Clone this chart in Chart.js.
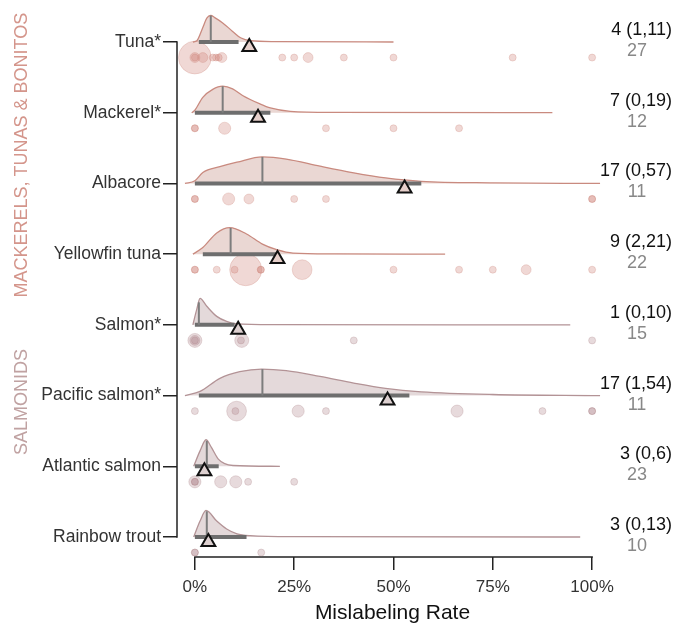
<!DOCTYPE html>
<html>
<head>
<meta charset="utf-8">
<script src="https://cdn.jsdelivr.net/npm/chart.js@4.4.1/dist/chart.umd.min.js"></script>
<style>
  html, body { margin: 0; padding: 0; background: #fff; }
</style>
</head>
<body>
<canvas id="rateChart" width="688" height="627"></canvas>
<script>
// Species, top to bottom
const species = ["Tuna*", "Mackerel*", "Albacore", "Yellowfin tuna", "Salmon*", "Pacific salmon*", "Atlantic salmon", "Rainbow trout"];
const speciesGroup = ["mackerel", "mackerel", "mackerel", "mackerel", "salmonid", "salmonid", "salmonid", "salmonid"];
const groupTitles = { mackerel: "MACKERELS, TUNAS & BONITOS", salmonid: "SALMONIDS" };

// Summary per species (percent)
const medians = [4, 7, 17, 9, 1, 17, 3, 3];
const lowerBounds = [1, 0, 0, 2, 0, 1, 0, 0];
const upperBounds = [11, 19, 57, 21, 10, 54, 6, 13];
const means = [13.7, 15.9, 52.8, 20.8, 10.9, 48.5, 2.4, 3.4];
const studyCounts = [27, 12, 11, 22, 15, 11, 23, 10];

// Density curves: [rate %, relative density]
const tunaDensity = [[-0.5, 0], [0.5, 0.05], [2, 0.55], [3, 0.9], [4, 1], [5, 0.92], [7, 0.72], [9.5, 0.4], [11.5, 0.16], [14, 0.05], [20, 0.015], [50, 0]];
const mackerelDensity = [[-0.8, 0], [0, 0.1], [2, 0.58], [4.5, 0.88], [7, 1], [9.5, 0.9], [12, 0.65], [16.4, 0.33], [19, 0.18], [24, 0.05], [35, 0.01], [90, 0]];
const albacoreDensity = [[-2.5, 0], [0, 0.1], [2, 0.41], [6.3, 0.63], [10.6, 0.8], [17, 1], [23, 0.92], [31.5, 0.65], [40, 0.4], [48, 0.21], [57, 0.08], [75, 0.02], [102, 0]];
const yellowfinDensity = [[-0.5, 0], [2, 0.25], [5.5, 0.8], [8.8, 1], [13, 0.76], [17, 0.38], [20.6, 0.17], [24.7, 0.04], [35, 0.01], [63, 0]];
const salmonDensity = [[-0.5, 0], [0.5, 0.6], [1.3, 1], [3, 0.7], [5.5, 0.32], [8, 0.13], [10.5, 0.04], [20, 0.01], [94.5, 0]];
const pacificDensity = [[-2.5, 0], [1.3, 0.16], [6.3, 0.65], [11.3, 0.9], [16.8, 1], [23, 0.94], [31.5, 0.72], [40, 0.47], [48, 0.27], [57, 0.14], [75, 0.04], [102, 0]];
const atlanticDensity = [[-0.3, 0], [1.3, 0.58], [2.8, 1], [4.2, 0.7], [5.9, 0.27], [7.5, 0.1], [9.6, 0.03], [21.4, 0]];
const rainbowDensity = [[-0.3, 0], [1.3, 0.6], [2.8, 1], [5.5, 0.6], [8, 0.3], [10.6, 0.12], [13.9, 0.05], [25, 0.01], [97, 0]];
const densities = [tunaDensity, mackerelDensity, albacoreDensity, yellowfinDensity, salmonDensity, pacificDensity, atlanticDensity, rainbowDensity];

// Individual studies: mislabeling rate (%) and sample weight
const tunaRates = [0, 0, 0, 2, 4.5, 5.3, 6, 6.8, 22, 25, 28.5, 37.5, 50, 80, 100];
const tunaWeights = [22, 2, 1, 2, 1, 1, 1, 2, 1, 1, 2, 1, 1, 1, 1];
const mackerelRates = [0, 0, 7.5, 33, 50, 66.5];
const mackerelWeights = [1, 1, 3, 1, 1, 1];
const albacoreRates = [0, 0, 8.5, 13.6, 25, 33, 100, 100];
const albacoreWeights = [1, 1, 3, 2, 1, 1, 1, 1];
const yellowfinRates = [0, 0, 5.5, 10, 12.8, 16.6, 16.6, 27, 50, 66.5, 75, 83.4, 100];
const yellowfinWeights = [1, 1, 1, 1, 21, 1, 1, 8, 1, 1, 1, 2, 1];
const salmonRates = [0, 0, 0, 11.6, 11.8, 40, 100];
const salmonWeights = [4, 2, 1, 1, 4, 1, 1];
const pacificRates = [0, 10.2, 10.5, 26, 33, 66, 87.5, 100, 100];
const pacificWeights = [1, 1, 8, 3, 1, 3, 1, 1, 1];
const atlanticRates = [0, 0, 0, 6.5, 10.3, 13.4, 25];
const atlanticWeights = [3, 1, 1, 3, 3, 1, 1];
const rainbowRates = [0, 0, 16.7];
const rainbowWeights = [1, 1, 1];
const studyRates = [tunaRates, mackerelRates, albacoreRates, yellowfinRates, salmonRates, pacificRates, atlanticRates, rainbowRates];
const studyWeights = [tunaWeights, mackerelWeights, albacoreWeights, yellowfinWeights, salmonWeights, pacificWeights, atlanticWeights, rainbowWeights];

const xTicks = [0, 25, 50, 75, 100];

const FONT = "'Liberation Sans', Arial, Helvetica, sans-serif";
const CURVE_HEIGHT = 0.375;  // peak of a density curve, in row units
const DOT_OFFSET = 0.22;
const MEAN_OFFSET = 0.07;

const palette = {
  mackerel: { fill: "rgba(195,140,128,0.35)", line: "#c98a7f", dot: "rgba(205,125,115,0.30)", dotEdge: "rgba(200,125,115,0.32)", mark: "#e6cfca", title: "#d4958b" },
  salmonid: { fill: "rgba(165,128,132,0.30)", line: "#b39396", dot: "rgba(170,122,128,0.28)", dotEdge: "rgba(165,120,125,0.32)", mark: "#ddd0d0", title: "#c0a2a2" }
};

Chart.defaults.font.family = FONT;

// height of a density curve at a given rate (linear between read points)
function densityAt(curve, rate) {
  for (let k = 1; k < curve.length; k++) {
    if (rate <= curve[k][0]) {
      const [x0, h0] = curve[k - 1];
      const [x1, h1] = curve[k];
      return h0 + (h1 - h0) * (rate - x0) / (x1 - x0);
    }
  }
  return 0;
}

const datasets = [];
species.forEach((name, i) => {
  const colors = palette[speciesGroup[i]];

  // mean marker
  datasets.push({
    data: [{ x: means[i], y: i + MEAN_OFFSET }],
    pointStyle: "triangle",
    pointRadius: 8,
    backgroundColor: colors.mark,
    borderColor: "#111",
    borderWidth: 2,
    order: 0,
    clip: false
  });

  // median tick
  datasets.push({
    data: [{ x: medians[i], y: i }, { x: medians[i], y: i - densityAt(densities[i], medians[i]) * CURVE_HEIGHT }],
    showLine: true,
    borderColor: "#7d7d7d",
    borderWidth: 2,
    pointRadius: 0,
    order: 1
  });

  // interval bar
  datasets.push({
    data: [{ x: lowerBounds[i], y: i }, { x: upperBounds[i], y: i }],
    showLine: true,
    borderColor: "#6e6e6e",
    borderWidth: 4,
    borderCapStyle: "butt",
    pointRadius: 0,
    order: 2
  });

  // density cloud
  datasets.push({
    data: densities[i].map(([r, h]) => ({ x: r, y: i - h * CURVE_HEIGHT })),
    showLine: true,
    cubicInterpolationMode: "monotone",
    fill: { value: i },
    backgroundColor: colors.fill,
    borderColor: colors.line,
    borderWidth: 1.3,
    pointRadius: 0,
    order: 3,
    clip: false
  });

  // individual studies
  const weights = studyWeights[i];
  datasets.push({
    data: studyRates[i].map(r => ({ x: r, y: i + DOT_OFFSET })),
    pointRadius: ctx => 3.5 * Math.sqrt(weights[ctx.dataIndex]),
    backgroundColor: colors.dot,
    borderColor: colors.dotEdge,
    borderWidth: 0.8,
    order: 4,
    clip: false
  });
});

// trimmed axis lines, group titles and the summary text on the right
const annotations = {
  id: "annotations",
  beforeDatasetsDraw(chart) {
    const { ctx, chartArea, scales: { x, y } } = chart;
    ctx.save();
    ctx.strokeStyle = "#222";
    ctx.lineWidth = 1.5;
    ctx.beginPath();
    ctx.moveTo(x.getPixelForValue(0) - 0.75, chartArea.bottom);
    ctx.lineTo(x.getPixelForValue(100) + 0.75, chartArea.bottom);
    ctx.moveTo(chartArea.left, y.getPixelForValue(0) - 0.75);
    ctx.lineTo(chartArea.left, y.getPixelForValue(species.length - 1) + 0.75);
    ctx.stroke();
    ctx.restore();
  },
  afterDraw(chart) {
    const { ctx, scales: { y } } = chart;
    ctx.save();

    species.forEach((name, i) => {
      const py = y.getPixelForValue(i);
      ctx.textBaseline = "middle";
      ctx.font = "18px " + FONT;
      ctx.fillStyle = "#111";
      ctx.textAlign = "right";
      ctx.fillText(`${medians[i]} (${lowerBounds[i]},${upperBounds[i]})`, 672, py - 12);
      ctx.fillStyle = "#888";
      ctx.textAlign = "center";
      ctx.fillText(String(studyCounts[i]), 637, py + 9);
    });

    const titleRows = { mackerel: 1.6, salmonid: 5.09 };
    Object.keys(groupTitles).forEach(g => {
      ctx.save();
      ctx.translate(27, y.getPixelForValue(titleRows[g]));
      ctx.rotate(-Math.PI / 2);
      ctx.font = "18px " + FONT;
      ctx.fillStyle = palette[g].title;
      ctx.textAlign = "center";
      ctx.textBaseline = "alphabetic";
      ctx.fillText(groupTitles[g], 0, 0);
      ctx.restore();
    });

    ctx.restore();
  }
};

new Chart(document.getElementById("rateChart"), {
  type: "scatter",
  data: { datasets },
  options: {
    responsive: false,
    animation: false,
    events: [],
    layout: { autoPadding: false, padding: { left: 0, right: 80, top: 0, bottom: 0 } },
    plugins: { legend: { display: false }, tooltip: { enabled: false } },
    scales: {
      x: {
        type: "linear",
        min: -4.5,
        max: 104,
        afterBuildTicks: s => { s.ticks = xTicks.map(v => ({ value: v })); },
        afterFit: s => { s.height = 70; s.paddingLeft = 0; s.paddingRight = 0; },
        ticks: { callback: v => v + "%", color: "#333", font: { size: 17 }, padding: 7, maxRotation: 0, autoSkip: false },
        grid: { drawOnChartArea: false, drawTicks: true, tickLength: 13, color: "#222", lineWidth: 1.5 },
        border: { display: false },
        title: { display: true, text: "Mislabeling Rate", color: "#111", font: { size: 21 }, padding: { top: 0, bottom: 1 } }
      },
      y: {
        type: "linear",
        reverse: true,
        min: -0.594,
        max: 7.283,
        afterBuildTicks: s => { s.ticks = species.map((_, i) => ({ value: i })); },
        afterFit: s => { s.width = 177; s.paddingTop = 0; s.paddingBottom = 0; },
        ticks: { callback: v => species[v], color: "#333", font: { size: 17.5 }, padding: 2, autoSkip: false },
        grid: { drawOnChartArea: false, drawTicks: true, tickLength: 14, color: "#222", lineWidth: 1.5 },
        border: { display: false }
      }
    }
  },
  plugins: [annotations]
});
</script>
</body>
</html>
